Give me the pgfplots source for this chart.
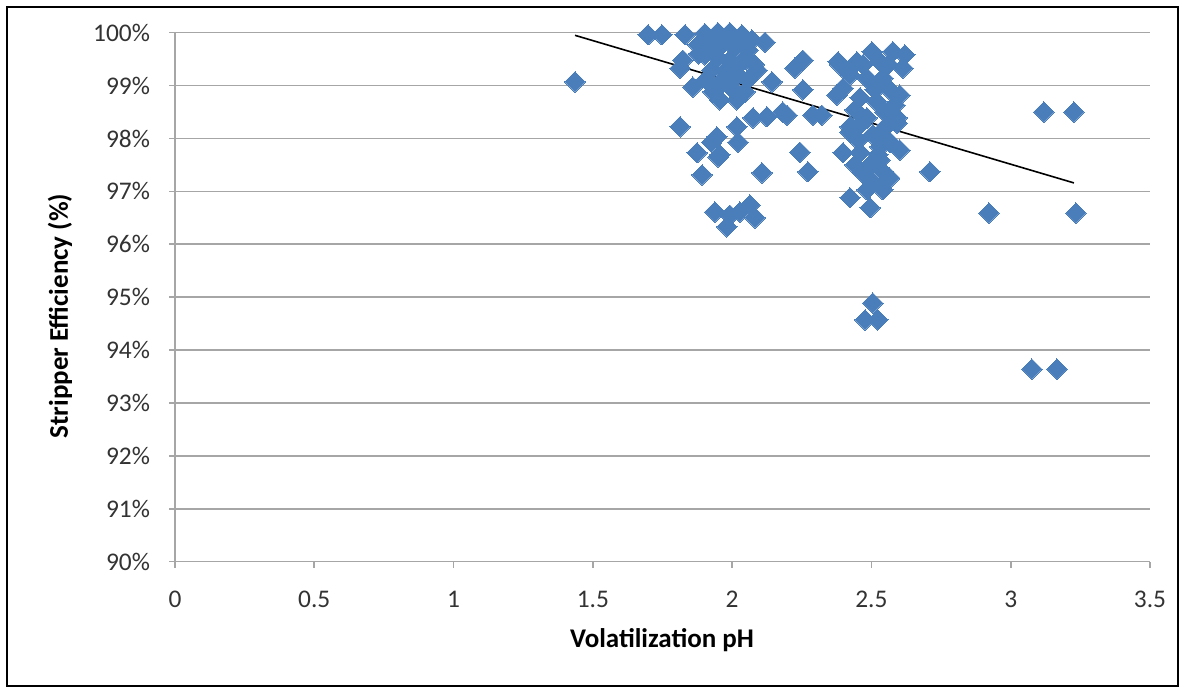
\documentclass[border=0pt]{standalone}
\usepackage{pgfplots}
\pgfplotsset{compat=1.18}
\usepackage{fontspec}
\setmainfont{Carlito}
\definecolor{ptblue}{HTML}{4A7EBB}
\definecolor{gridgray}{HTML}{A6A6A6}
\begin{document}
\begin{tikzpicture}
\begin{axis}[
  scale only axis,
  width=487.5pt, height=264.5pt,
  xmin=0, xmax=3.5, ymin=90, ymax=100,
  axis x line*=bottom, axis y line*=left,
  axis line style={gridgray, line width=0.8pt},
  xtick={0,0.5,...,3.5},
  ytick={90,91,...,100},
  yticklabel={\pgfmathprintnumber{\tick}\%},
  /pgf/number format/assume math mode=true,
  ymajorgrids, major grid style={gridgray, line width=0.8pt},
  tick style={gridgray, line width=0.8pt},
  tick align=outside, major tick length=3pt,
  ticklabel style={font=\fontsize{12.7}{15}\selectfont, text=black!80},
  xticklabel style={yshift=-8pt},
  yticklabel style={xshift=-6pt},
  xlabel={Volatilization pH},
  ylabel={Stripper Efficiency (\%)},
  label style={font=\fontsize{13.5}{16}\selectfont\bfseries},
  xlabel style={at={(axis description cs:0.4995,-0.148)}, anchor=center},
  ylabel style={at={(axis description cs:-0.118,0.4645)}, anchor=center, rotate=0},
  clip=false,
]
\addplot[only marks, mark=square*, mark size=3.6pt, color=ptblue, mark options={rotate=45, fill=ptblue, draw=ptblue, line width=0pt}] coordinates {
(1.436,99.07) (1.698,99.96) (1.748,99.96) (1.831,99.96) (1.877,99.77)
(1.823,99.48) (1.813,99.33) (1.859,98.97) (1.931,98.88) (1.956,98.73)
(2.017,98.73) (2.089,99.29) (2.143,99.07) (2.118,99.82) (2.225,99.33)
(2.254,99.48) (2.254,98.92) (2.290,98.44) (1.813,98.22) (2.017,98.22)
(2.075,98.39) (2.125,98.41) (2.182,98.50) (1.945,98.03) (1.874,97.73)
(1.956,97.69) (2.243,97.74) (1.927,97.93) (2.021,97.93) (1.892,97.31)
(2.107,97.35) (1.949,97.65) (1.938,96.61) (1.981,96.33) (2.028,96.61)
(2.064,96.74) (2.082,96.50) (1.992,96.55)
(1.902,99.98) (1.949,100.0) (1.992,100.0) (2.035,99.96) (2.071,99.86)
(1.920,99.82) (1.963,99.77) (2.010,99.71) (2.057,99.67) (1.902,99.58)
(1.949,99.52) (1.992,99.48) (2.035,99.45) (1.927,99.29) (1.974,99.26)
(2.021,99.20) (2.057,99.11) (1.956,99.01) (1.999,98.95) (1.906,99.11)
(2.046,98.88) (1.880,99.60) (2.000,99.35) (2.050,99.50) (1.970,99.10)
(2.080,99.40) (1.930,99.65) (2.010,99.85)
(2.380,99.45) (2.376,98.82) (2.197,98.44) (2.322,98.44) (2.602,98.82)
(2.592,98.39) (2.398,97.73) (2.459,97.73) (2.602,97.78) (2.272,97.37)
(2.531,97.84) (2.710,97.37) (2.423,96.88) (2.495,96.69) (2.505,94.89)
(2.477,94.57) (2.523,94.57)
(2.502,99.64) (2.577,99.64) (2.613,99.33) (2.448,99.45) (2.531,99.45)
(2.387,99.39) (2.484,99.14) (2.541,99.14) (2.398,98.95) (2.459,98.77)
(2.520,98.69) (2.484,98.39) (2.423,98.12) (2.505,98.07) (2.566,97.93)
(2.620,99.58) (2.441,98.54) (2.548,98.50)
(2.423,98.22) (2.531,98.10) (2.592,98.29) (2.469,97.35) (2.541,97.37)
(2.505,97.16) (2.484,97.03) (2.541,97.03) (2.566,97.25) (2.531,97.59)
(2.441,97.50) (2.495,97.50)
(2.423,99.20) (2.566,98.92) (2.459,98.26) (2.559,98.26) (2.513,98.92)
(2.584,98.63) (2.452,97.97) (2.523,97.69) (2.470,99.40) (2.560,99.40)
(3.119,98.50) (3.227,98.50) (2.922,96.59) (3.234,96.59) (3.076,93.64)
(3.166,93.64)
};
\addplot[black, line width=0.8pt] coordinates {(1.436,99.95) (3.227,97.16)};
\draw[black, line width=1.2pt] (rel axis cs:-0.1723,-0.235) rectangle (rel axis cs:1.0287,1.0486);
\path (rel axis cs:-0.1795,-0.2444) rectangle (rel axis cs:1.0359,1.0618);
\end{axis}
\end{tikzpicture}
\end{document}
